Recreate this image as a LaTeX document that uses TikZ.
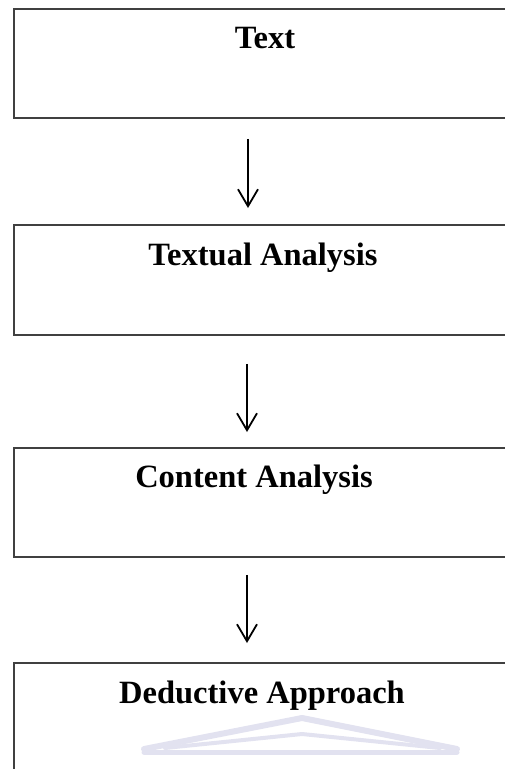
\documentclass[tikz,border=0pt]{standalone}
\usepackage{fontspec}
\setmainfont{Liberation Serif}
\usetikzlibrary{arrows.meta,calc}
\definecolor{wmark}{RGB}{226,226,240}
\begin{document}
\begin{tikzpicture}[x=1pt,y=-1pt,
  stepbox/.style={draw=black!75,line width=1.8pt,rectangle,minimum width=500pt,inner sep=0pt,anchor=north west},
  lbl/.style={font=\bfseries\fontsize{32.5}{38}\selectfont,anchor=base,inner sep=0pt},
  arr/.style={line width=1.8pt,-{Straight Barb[length=17pt,width=20pt,line width=1.8pt]}},
  wm/.style={draw=wmark,line width=6pt,line cap=round,line join=round}]
\useasboundingbox (0,0) rectangle (504,769);
\node[stepbox,minimum height=109pt] (b1) at (13,8) {};
\node[stepbox,minimum height=110pt] (b2) at (13,224) {};
\node[stepbox,minimum height=109pt] (b3) at (13,447) {};
\node[stepbox,minimum height=130pt] (b4) at (13,662) {};
% watermark
\draw[wm] (144,749) -- (302,718) -- (457,749);
\draw[wm,line width=4pt] (165,748) -- (302,734) -- (440,748);
\draw[wm,line width=5pt] (144,752) -- (457,752);
\node[lbl] (t1) at (265,48) {Text};
\node[lbl] (t2) at (263,265) {Textual Analysis};
\node[lbl] (t3) at (254,487) {Content Analysis};
\node[lbl] (t4) at (262,703) {Deductive Approach};
\coordinate (a1s) at ($(b1.south west)+(235,0)$);
\coordinate (a1e) at ($(b2.north west)+(235,0)$);
\coordinate (a2s) at ($(b2.south west)+(234,0)$);
\coordinate (a2e) at ($(b3.north west)+(234,0)$);
\coordinate (a3s) at ($(b3.south west)+(234,0)$);
\coordinate (a3e) at ($(b4.north west)+(234,0)$);
\draw[arr,shorten <=20pt,shorten >=16pt] (a1s) -- (a1e);
\draw[arr,shorten <=28pt,shorten >=15pt] (a2s) -- (a2e);
\draw[arr,shorten <=17pt,shorten >=19pt] (a3s) -- (a3e);
\end{tikzpicture}
\end{document}
